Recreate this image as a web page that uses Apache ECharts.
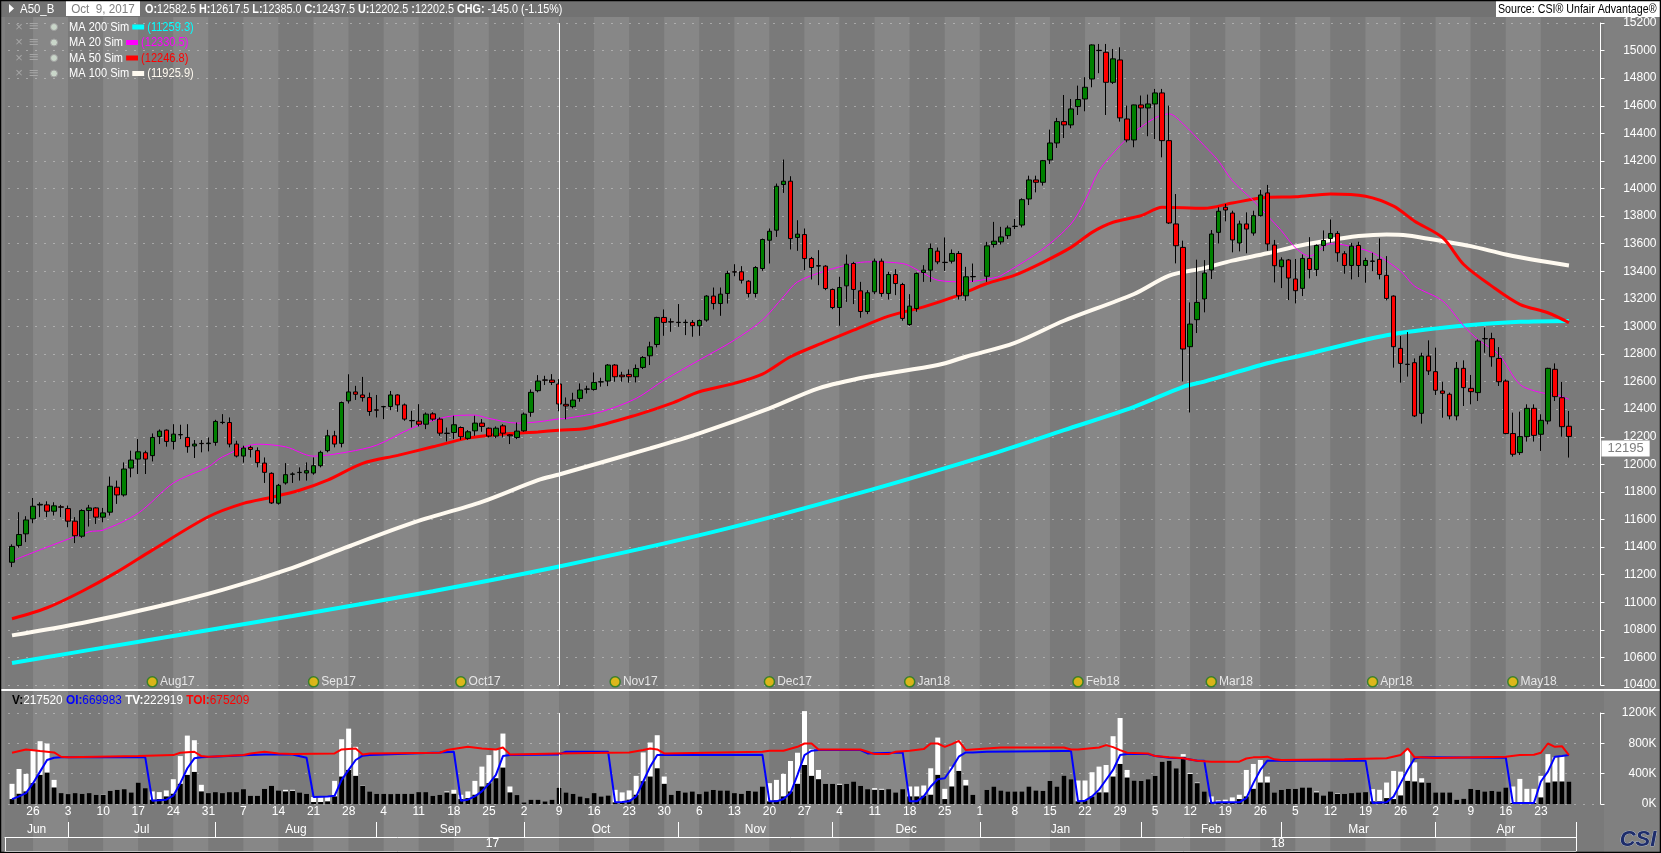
<!DOCTYPE html>
<html>
<head>
<meta charset="utf-8">
<script src="https://cdn.jsdelivr.net/npm/echarts@6/dist/echarts.min.js"></script>
<style>
html, body { margin: 0; padding: 0; background: #808080; }
#main { width: 1661px; height: 853px; }
</style>
</head>
<body>
<div id="main"></div>
<script>
// trading days shown on the axis (weekdays), first and last date
const FIRST_DAY = '2017-06-21';
const LAST_DAY = '2018-04-27';
const CURSOR_DAY = '2017-10-09';
const LAST_PRICE = 12195;

// daily bars: [open, high, low, close], null = no trading
const ohlc = [
[11290,11420,11255,11405],[11412,11653,11395,11491],[11496,11624,11436,11597],[11605,11756,11573,11696],[11705,11725,11617,11710],
[11706,11732,11617,11660],[11660,11725,11629,11699],[11692,11706,11617,11689],[11679,11701,11544,11588],[11588,11617,11429,11482],
[11479,11674,11467,11665],[11665,11706,11549,11684],[11684,11689,11568,11617],[11617,11684,11580,11648],[11653,11911,11629,11841],
[11834,11882,11713,11778],[11778,12014,11766,11966],[11973,12099,11906,12031],[12038,12183,11930,12091],[12084,12099,11930,12038],
[12063,12224,12021,12195],[12202,12253,12147,12241],[12248,12253,12128,12166],[12166,12291,12108,12219],[12214,12287,12183,12216],
[12195,12291,12084,12128],[12133,12176,12046,12147],[12152,12176,12087,12150],[12150,12195,12094,12154],[12159,12323,12135,12311],
[12303,12364,12291,12305],[12303,12340,12123,12147],[12147,12171,12050,12060],[12060,12135,12012,12118],[12123,12135,12050,12108],
[12099,12123,11978,12012],[12009,12050,11865,11942],[11935,11942,11713,11720],[11718,11858,11708,11848],[11865,12009,11853,11925],
[11928,11942,11865,11930],[11940,11978,11882,11942],[11937,12014,11882,11954],[11937,12050,11925,11990],[11990,12099,11978,12087],
[12099,12250,12087,12207],[12207,12243,12123,12147],[12152,12455,12123,12448],[12460,12653,12441,12525],[12525,12569,12467,12508],
[12503,12634,12455,12484],[12484,12520,12352,12383],[12395,12503,12340,12393],[12417,12424,12328,12419],[12419,12532,12393,12503],
[12503,12508,12381,12431],[12431,12441,12316,12328],[12318,12388,12267,12316],[12313,12436,12275,12291],[12291,12376,12255,12364],
[12366,12378,12316,12328],[12328,12340,12207,12226],[12226,12267,12166,12224],[12231,12352,12183,12287],[12267,12275,12178,12200],
[12188,12248,12178,12236],[12243,12352,12207,12299],[12299,12328,12236,12275],[12262,12267,12195,12205],[12205,12275,12190,12262],
[12279,12291,12195,12226],[12214,12219,12147,12207],[12195,12303,12183,12241],[12243,12376,12236,12364],[12377,12543,12345,12522],
[12534,12647,12522,12604],[12612,12642,12575,12610],[12611,12654,12575,12594],[12582.5,12617.5,12385,12437.5],[12435,12485,12326,12423],
[12418,12519,12406,12466],[12478,12587,12454,12539],[12545,12570,12514,12546],[12543,12666,12534,12594],[12597,12628,12563,12599],
[12604,12727,12567,12720],[12720,12727,12599,12635],[12647,12671,12599,12635],[12652,12688,12592,12635],[12635,12724,12594,12695],
[12703,12785,12691,12775],[12787,12889,12720,12852],[12869,13070,12848,13065],[13065,13123,12932,13029],[13034,13058,12961,13032],
[13030,13162,12997,13028],[13028,13050,12937,13030],[13029,13046,12925,13005],[13005,13050,12932,13043],[13046,13227,13034,13220],
[13220,13282,13123,13166],[13166,13282,13077,13234],[13239,13403,13166,13384],[13396,13451,13364,13394],[13396,13437,13311,13335],
[13328,13335,13210,13239],[13239,13437,13210,13427],[13420,13637,13403,13630],[13625,13710,13456,13690],[13698,14036,13649,14016],
[14029,14210,13968,14053],[14053,14089,13558,13637],[13645,13770,13548,13669],[13666,13710,13408,13492],[13492,13504,13340,13427],
[13440,13553,13299,13438],[13437,13444,13263,13275],[13268,13275,13125,13137],[13137,13360,13005,13282],[13294,13521,13178,13451],
[13456,13468,13162,13268],[13258,13323,13063,13108],[13108,13263,13089,13244],[13251,13492,13234,13473],[13473,13492,13215,13239],
[13239,13396,13195,13376],[13376,13415,13227,13311],[13304,13316,13041,13058],[13014,13234,13005,13147],[13130,13391,13106,13384],
[13391,13444,13323,13408],[13408,13601,13323,13565],[13546,13572,13451,13468],[13465,13645,13403,13463],[13473,13558,13456,13529],
[13529,13546,13195,13222],[13222,13432,13186,13360],[13362,13456,13323,13360],null,[13364,13613,13323,13584],
[13594,13758,13572,13618],[13613,13722,13594,13649],[13658,13731,13634,13714],[13725,13779,13706,13726],[13735,13929,13718,13919],
[13924,14093,13880,14062],[14062,14093,13972,14045],[14045,14207,14021,14202],[14207,14427,14178,14330],[14330,14512,14294,14485],
[14485,14678,14366,14461],[14461,14649,14437,14577],[14594,14746,14533,14645],[14649,14807,14560,14734],[14794,15045,14734,15041],
[15002,15048,14836,15000],[14988,15048,14533,14770],[14770,15012,14758,14940],[14932,15024,14485,14512],[14504,14601,14335,14352],
[14352,14608,14299,14606],[14606,14674,14444,14584],[14584,14681,14379,14613],[14613,14722,14359,14693],[14693,14722,14226,14347],
[14347,14601,13743,13750],[13743,13960,13457,13585],[13573,13622,12601,12836],[12853,13174,12376,13017],[13049,13484,12952,13174],
[13199,13481,13102,13387],[13409,13699,13344,13670],[13682,13864,13602,13835],[13864,13888,13762,13844],[13822,13839,13537,13627],
[13605,13767,13544,13743],[13743,13827,13530,13706],[13677,13839,13658,13803],[13803,13989,13796,13953],[13968,14026,13549,13598],
[13590,13627,13319,13440],[13433,13501,13278,13482],[13482,13489,13191,13351],[13344,13489,13167,13259],[13276,13522,13220,13493],
[13493,13647,13348,13413],[13413,13594,13365,13587],[13587,13696,13546,13623],[13638,13775,13606,13674],[13674,13691,13469,13534],
[13527,13546,13382,13442],[13442,13606,13341,13582],[13587,13614,13358,13442],[13442,13498,13317,13478],[13472,13534,13401,13474],
[13486,13638,13341,13377],[13370,13510,13189,13203],[13220,13225,12701,12853],[12841,12930,12592,12732],[12726,12959,12636,12724],
[12737,12768,12343,12351],[12370,12809,12295,12785],[12785,12899,12648,12677],[12672,12846,12503,12537],[12532,12599,12338,12515],
[12508,12520,12326,12351],[12351,12742,12319,12696],[12696,12754,12423,12556],[12551,12648,12435,12527],[12520,12906,12459,12894],
[12910,12991,12809,12912],[12911,12954,12708,12780],[12768,12850,12568,12599],[12604,12616,12218,12223],[12223,12375,12056,12073],
[12085,12382,12068,12201],[12201,12435,12165,12406],[12406,12435,12165,12210],[12218,12363,12097,12319],[12314,12700,12290,12696],
[12689,12732,12459,12491],[12483,12597,12201,12273],[12276,12387,12049,12202.5]
];

// moving averages: [day index, value]
const ma200Pts = [[0,10560],[20,10730],[40,10900],[60,11080],[78,11259],[100,11510],[120,11780],[140,12080],[150,12248],[160,12417],[167,12562],[170,12600],[179,12733],[184,12791],[196,12936],[206,13001],[215,13033],[222,13040]];
const ma100Pts = [[0,10760],[10,10850],[20,10960],[30,11090],[40,11250],[47,11386],[57,11574],[67,11728],[75,11885],[78,11926],[91,12116],[98,12225],[108,12406],[115,12551],[122,12635],[132,12720],[136,12780],[143,12881],[150,13041],[160,13235],[165,13368],[170,13423],[174,13477],[179,13530],[183,13580],[187,13618],[192,13655],[196,13667],[199,13660],[204,13618],[208,13582],[213,13522],[218,13474],[222,13442]];
const ma50Pts = [[0,10880],[5,10960],[10,11080],[15,11220],[20,11378],[28,11620],[33,11717],[37,11761],[41,11812],[45,11885],[50,12007],[55,12065],[60,12127],[65,12190],[70,12219],[75,12235],[78,12247],[82,12261],[89,12357],[94,12442],[98,12526],[103,12587],[107,12654],[111,12780],[116,12889],[120,12973],[125,13075],[130,13142],[135,13227],[139,13311],[143,13372],[147,13465],[151,13573],[154,13682],[157,13755],[161,13803],[164,13864],[170,13856],[174,13895],[179,13936],[183,13940],[188,13961],[193,13944],[197,13872],[200,13763],[204,13643],[207,13449],[211,13292],[215,13160],[219,13099],[222,13027]];
const ma20Pts = [[0,11300],[4,11380],[11,11511],[13,11523],[18,11646],[23,11864],[28,11982],[30,12054],[35,12146],[39,12127],[43,12059],[48,12091],[52,12139],[57,12262],[62,12345],[66,12357],[68,12333],[72,12299],[75,12308],[78,12330],[79,12333],[84,12381],[89,12478],[93,12611],[98,12756],[103,12901],[107,13046],[110,13215],[112,13323],[116,13403],[120,13456],[122,13468],[127,13456],[130,13384],[132,13335],[136,13323],[140,13352],[141,13368],[147,13561],[151,13743],[153,13912],[155,14130],[158,14311],[160,14408],[163,14512],[165,14541],[167,14468],[170,14311],[172,14202],[174,14057],[177,13912],[179,13803],[181,13694],[183,13570],[185,13510],[188,13599],[190,13590],[194,13534],[198,13401],[200,13292],[204,13184],[207,13003],[209,12906],[212,12797],[215,12580],[218,12520],[220,12508],[222,12471]];

const maNames = ['MA 200 Sim', 'MA 20 Sim', 'MA 50 Sim', 'MA 100 Sim'];
const maColors = ['#00ffff', '#ff00ff', '#ff0000', '#fffaf0'];
const maValues = ['11259.3', '12330.5', '12246.8', '11925.9'];

// volume (thousands): contract volume and total volume
const vol = [65,135,166,275,384,414,218,144,131,144,135,144,122,122,174,187,196,153,283,209,
57,65,100,135,266,384,423,166,144,157,144,157,157,196,109,109,200,240,179,166,
174,153,135,26,26,35,100,362,449,371,240,166,135,135,131,135,135,135,157,157,
109,122,153,135,65,78,122,231,275,340,480,153,118,22,57,57,35,57,218,153,
135,100,78,144,100,113,22,22,57,122,301,362,471,266,122,174,153,166,131,166,
187,179,179,144,135,174,166,231,35,48,100,166,266,514,371,327,266,266,253,266,
297,240,196,187,187,196,153,196,100,100,109,122,384,65,231,436,244,122,null,187,
231,179,166,166,166,231,179,174,305,231,375,327,35,48,100,153,153,362,528,349,
310,305,327,371,558,571,471,623,397,275,166,22,13,13,22,65,100,200,283,283,
153,187,200,200,218,218,153,113,166,135,135,144,153,157,35,35,78,65,113,305,
297,283,283,153,153,153,57,70,200,187,166,174,166,218,13,13,13,13,87,283,
297,297,297];
const totVol = [266,462,397,711,828,798,318,144,131,144,135,144,122,126,174,187,196,153,283,209,
166,157,179,327,632,902,841,253,144,157,144,157,157,196,109,109,200,240,179,187,
187,153,135,92,87,100,305,854,994,754,244,166,135,135,131,135,135,135,157,157,
109,122,166,187,122,166,305,493,645,711,929,231,118,22,57,57,35,57,223,153,
135,100,78,144,100,113,187,153,179,371,680,811,907,362,122,174,153,166,131,166,
187,179,179,144,135,174,166,231,275,318,397,567,676,1225,724,449,266,266,266,266,
297,240,196,209,200,196,153,196,231,231,244,471,876,200,493,841,318,122,null,187,
231,179,166,166,166,231,179,174,305,231,375,327,310,310,419,493,514,894,1134,449,
310,305,327,371,558,571,471,658,410,283,166,100,48,57,87,122,449,528,580,362,
153,187,200,200,218,218,166,113,166,144,135,144,153,157,196,187,283,436,427,711,
549,340,283,153,153,153,57,70,200,187,166,174,166,218,231,331,200,200,371,658,
615,632,297];

// open interest (thousands): contract OI and total OI, [day index, value]
const oiPts = [[0,65],[1,100],[2,144],[3,275],[4,427],[5,580],[6,610],[7,615],[19,615],[20,44],[21,48],[22,57],[23,109],[24,275],[25,471],[26,602],[27,615],[34,645],[36,654],[40,654],[42,610],[43,92],[45,100],[46,109],[47,318],[48,449],[49,580],[50,637],[51,645],[61,680],[63,689],[64,44],[65,57],[66,100],[67,166],[68,266],[69,384],[70,632],[71,645],[78,654],[79,689],[85,689],[86,22],[87,26],[88,35],[89,100],[90,297],[91,493],[92,645],[107,650],[108,35],[109,35],[110,65],[111,144],[112,384],[113,645],[114,702],[115,711],[121,711],[122,667],[127,680],[128,35],[129,35],[130,100],[131,231],[132,327],[133,340],[134,471],[135,624],[136,680],[137,680],[139,689],[150,700],[151,700],[152,35],[153,44],[154,100],[155,190],[156,320],[157,449],[158,645],[159,658],[162,658],[163,632],[165,610],[167,602],[169,571],[170,571],[171,13],[172,22],[175,22],[176,78],[177,275],[178,449],[179,571],[193,571],[194,13],[196,22],[197,100],[198,275],[199,449],[200,602],[201,615],[213,610],[214,13],[217,13],[218,297],[219,427],[220,624],[221,632],[222,645]];
const toiPts = [[0,676],[2,719],[4,698],[6,680],[7,623],[8,615],[18,632],[23,645],[24,676],[26,689],[27,632],[28,623],[33,645],[34,667],[36,689],[38,667],[40,658],[46,667],[47,719],[49,732],[50,654],[51,667],[61,676],[62,711],[65,754],[67,732],[69,719],[70,745],[71,654],[78,667],[85,676],[88,680],[90,711],[91,732],[92,719],[93,667],[107,689],[108,702],[110,702],[112,754],[113,798],[114,798],[115,719],[121,719],[122,689],[123,658],[125,658],[126,689],[128,702],[130,724],[131,798],[132,798],[133,754],[134,789],[135,833],[136,711],[137,719],[139,732],[141,745],[150,745],[151,719],[152,719],[155,745],[156,776],[157,750],[158,711],[159,676],[162,667],[163,632],[165,615],[167,602],[169,571],[171,558],[175,558],[176,600],[177,615],[178,615],[179,624],[180,589],[181,580],[190,589],[196,602],[198,645],[199,732],[200,615],[201,615],[203,605],[213,624],[215,645],[217,650],[218,676],[219,798],[220,754],[221,763],[222,645]];

// contract month markers: [day index, label]
const markers = [[20,'Aug17'],[43,'Sep17'],[64,'Oct17'],[86,'Nov17'],[108,'Dec17'],[128,'Jan18'],[152,'Feb18'],[171,'Mar18'],[194,'Apr18'],[214,'May18']];

const MONTHS = ['Jan','Feb','Mar','Apr','May','Jun','Jul','Aug','Sep','Oct','Nov','Dec'];
const FONT = '"Liberation Sans", Arial, sans-serif';

// weekday categories
const days = [];
for (let d = new Date(FIRST_DAY + 'T00:00:00Z'); d <= new Date(LAST_DAY + 'T00:00:00Z'); d.setUTCDate(d.getUTCDate() + 1)) {
  const wd = d.getUTCDay();
  if (wd !== 0 && wd !== 6) days.push(d.toISOString().slice(0, 10));
}
const N = days.length;
const mainCats = days.concat(['p1', 'p2', 'p3', 'p4']);
const bgCats = ['b0'].concat(mainCats);
const rowCats = ['b0'].concat(days);
const isMon = days.map(s => new Date(s + 'T00:00:00Z').getUTCDay() === 1);

const SLOT = 7.0132;
const LEFT = 8.5;
const BG_LEFT = LEFT - SLOT / 2;

// month and year spans on the row axes (row index j = day index + 1)
const monthStarts = [];
const yearStarts = [];
for (let i = 1; i < N; i++) {
  if (days[i].slice(5, 7) !== days[i - 1].slice(5, 7)) monthStarts.push(i);
  if (days[i].slice(0, 4) !== days[i - 1].slice(0, 4)) yearStarts.push(i);
}
function spanLabels(starts, labelOf) {
  const edges = [0].concat(starts.map(s => s + 1), [rowCats.length]);
  const out = [];
  for (let k = 0; k < edges.length - 1; k++) {
    out.push({ from: edges[k], to: edges[k + 1], name: labelOf(Math.max(edges[k] - 1, 0)) });
  }
  return out;
}
const monthLabels = spanLabels(monthStarts, i => MONTHS[+days[i].slice(5, 7) - 1]);
const yearLabels = spanLabels(yearStarts, i => days[i].slice(2, 4));
const monthTicks = new Set(monthStarts.map(s => s + 1));
const yearTicks = new Set(yearStarts.map(s => s + 1));

const candles = ohlc.map(r => r ? [r[0], r[3], r[2], r[1]] : '-');

const chart = echarts.init(document.getElementById('main'));

const txt = (extra) => Object.assign({ fontFamily: FONT, fontSize: 13, fill: '#ffffff' }, extra);

const graphic = [
  { type: 'rect', z: 50, shape: { x: 0, y: 0, width: 1661, height: 17 }, style: { fill: '#727272' } },
  { type: 'polygon', z: 51, shape: { points: [[9, 4], [14, 8.5], [9, 13]] }, style: { fill: '#ffffff' } },
  { type: 'text', z: 51, x: 20, y: 9, scaleX: 0.88, style: txt({ text: 'A50_B', verticalAlign: 'middle' }) },
  { type: 'rect', z: 51, shape: { x: 66, y: 1, width: 74, height: 15 }, style: { fill: '#ffffff' } },
  { type: 'text', z: 52, x: 103, y: 9, scaleX: 0.9, style: txt({ text: 'Oct  9, 2017', fill: '#808080', align: 'center', verticalAlign: 'middle' }) },
  { type: 'text', z: 51, x: 145, y: 9, scaleX: 0.83, style: txt({
      verticalAlign: 'middle',
      text: '{b|O:}12582.5 {b|H:}12617.5 {b|L:}12385.0 {b|C:}12437.5 {b|U:}12202.5 {b|:}12202.5 {b|CHG:} -145.0 (-1.15%)',
      rich: { b: { fontWeight: 'bold', fontFamily: FONT, fontSize: 13, fill: '#ffffff' } }
  }) },
  { type: 'rect', z: 51, shape: { x: 1496, y: 0, width: 165, height: 17 }, style: { fill: '#ffffff' } },
  { type: 'text', z: 52, x: 1498, y: 9, scaleX: 0.82, style: txt({ text: 'Source: CSI\u00ae Unfair Advantage\u00ae', fill: '#000000', verticalAlign: 'middle' }) },
  { type: 'rect', z: 50, shape: { x: 0, y: 689, width: 1661, height: 2 }, style: { fill: '#ffffff' } },
  { type: 'text', z: 51, x: 12, y: 700, scaleX: 0.91, style: txt({
      verticalAlign: 'middle',
      text: '{k|V:}217520 {bb|OI:}{bv|669983} {b|TV:}222919 {rb|TOI:}{rv|675209}',
      rich: {
        k: { fontWeight: 'bold', fill: '#000000', fontFamily: FONT, fontSize: 13 },
        b: { fontWeight: 'bold', fill: '#ffffff', fontFamily: FONT, fontSize: 13 },
        bb: { fontWeight: 'bold', fill: '#0000ff', fontFamily: FONT, fontSize: 13 },
        bv: { fill: '#0000ff', fontFamily: FONT, fontSize: 13 },
        rb: { fontWeight: 'bold', fill: '#ff0000', fontFamily: FONT, fontSize: 13 },
        rv: { fill: '#ff0000', fontFamily: FONT, fontSize: 13 }
      }
  }) },
  { type: 'text', z: 51, x: 1638, y: 840, style: { text: 'CSI', font: 'italic bold 22px "Liberation Sans"', fill: '#1e2d6b', stroke: '#d0d8e8', lineWidth: 0.6, align: 'center', verticalAlign: 'middle' } },
  { type: 'rect', z: 60, shape: { x: 0.5, y: 0.5, width: 1660, height: 852 }, style: { fill: null, stroke: '#000000', lineWidth: 1.5 } }
];
maNames.forEach((name, k) => {
  const y = 27 + k * 15.5;
  graphic.push(
    { type: 'text', z: 51, x: 19, y: y, style: txt({ text: '\u00d7', fill: '#a6a6a6', verticalAlign: 'middle', align: 'center' }) },
    { type: 'text', z: 51, x: 34, y: y, style: txt({ text: '\u2261', fill: '#a6a6a6', verticalAlign: 'middle', align: 'center', fontFamily: '"DejaVu Sans"' }) },
    { type: 'circle', z: 51, shape: { cx: 54, cy: y, r: 3.5 }, style: { fill: '#c9d6c9', stroke: '#a0a0a0', lineWidth: 1 } },
    { type: 'text', z: 51, x: 69, y: y, scaleX: 0.85, style: txt({
        verticalAlign: 'middle',
        text: '{n|' + name + '} {s| } {v|(' + maValues[k] + ')}',
        rich: {
          n: { fill: '#ffffff', fontFamily: FONT, fontSize: 13 },
          s: { backgroundColor: maColors[k], width: 14, height: 5, verticalAlign: 'middle' },
          v: { fill: maColors[k], fontFamily: FONT, fontSize: 13 }
        }
    }) }
  );
});

const dotted = { color: '#d4d4d4', width: 1, type: [1, 8] };
const axisLbl = { color: '#ffffff', fontSize: 12, fontFamily: FONT };

chart.setOption({
  animation: false,
  backgroundColor: '#808080',
  graphic: graphic,
  grid: [
    { left: BG_LEFT, top: 17, width: SLOT * bgCats.length, height: 835, outerBoundsMode: 'none' },
    { left: LEFT, top: 23, width: SLOT * mainCats.length, height: 662, outerBoundsMode: 'none' },
    { left: LEFT, top: 713, width: SLOT * mainCats.length, height: 91, outerBoundsMode: 'none' },
    { left: BG_LEFT, top: 822, width: SLOT * rowCats.length, height: 15, outerBoundsMode: 'none' },
    { left: BG_LEFT, top: 837, width: SLOT * rowCats.length, height: 14, outerBoundsMode: 'none' }
  ],
  xAxis: [
    { type: 'category', gridIndex: 0, data: bgCats, z: 0,
      axisLine: { show: false }, axisTick: { show: false }, axisLabel: { show: false }, splitLine: { show: false },
      splitArea: { show: true, interval: (j) => j === 0 || (j >= 1 && j <= N && isMon[j - 1]),
        areaStyle: { color: ['#7a7a7a', '#878787'] } } },
    { type: 'category', gridIndex: 1, data: mainCats, show: false },
    { type: 'category', gridIndex: 2, data: mainCats,
      axisLine: { show: false }, axisTick: { show: false }, splitLine: { show: false },
      axisLabel: Object.assign({ interval: (i) => i < N && isMon[i], margin: 2,
        formatter: (v) => String(+v.slice(8, 10)) }, axisLbl) },
    { type: 'category', gridIndex: 3, data: rowCats, position: 'top',
      axisLine: { show: true, lineStyle: { color: '#ffffff', width: 1 } },
      axisTick: { show: false }, axisLabel: { show: false },
      splitLine: { show: true, interval: (j) => monthTicks.has(j), lineStyle: { color: '#ffffff', width: 1 } } },
    { type: 'category', gridIndex: 4, data: rowCats, position: 'top',
      axisLine: { show: true, lineStyle: { color: '#ffffff', width: 1 } },
      axisTick: { show: false }, axisLabel: { show: false },
      splitLine: { show: true, interval: (j) => yearTicks.has(j), lineStyle: { color: '#ffffff', width: 1 } } }
  ],
  yAxis: [
    { type: 'value', gridIndex: 0, min: 0, max: 1, show: false },
    { type: 'value', gridIndex: 1, position: 'right', min: 10400, max: 15200, interval: 200, z: 1,
      axisLine: { show: true, lineStyle: { color: '#ffffff', width: 1 } },
      axisTick: { show: true, length: 4, lineStyle: { color: '#ffffff' } },
      axisLabel: Object.assign({ align: 'right', margin: 56, formatter: (v) => String(v) }, axisLbl),
      splitLine: { show: true, lineStyle: dotted } },
    { type: 'value', gridIndex: 2, position: 'right', min: 0, max: 1200, interval: 400, z: 1,
      axisLine: { show: true, lineStyle: { color: '#ffffff', width: 1 } },
      axisTick: { show: true, length: 4, lineStyle: { color: '#ffffff' } },
      axisLabel: Object.assign({ align: 'right', margin: 56, formatter: (v) => v + 'K' }, axisLbl),
      splitLine: { show: true, lineStyle: dotted } },
    { type: 'value', gridIndex: 3, min: 0, max: 1, show: false },
    { type: 'value', gridIndex: 4, min: 0, max: 1, show: false }
  ],
  series: [
    { name: 'MA 200', type: 'line', xAxisIndex: 1, yAxisIndex: 1, data: ma200Pts, showSymbol: false, silent: true, z: 2, smooth: 0.3,
      lineStyle: { color: maColors[0], width: 4 } },
    { name: 'MA 100', type: 'line', xAxisIndex: 1, yAxisIndex: 1, data: ma100Pts, showSymbol: false, silent: true, z: 2, smooth: 0.3,
      lineStyle: { color: maColors[3], width: 4 } },
    { name: 'MA 50', type: 'line', xAxisIndex: 1, yAxisIndex: 1, data: ma50Pts, showSymbol: false, silent: true, z: 2, smooth: 0.3,
      lineStyle: { color: maColors[2], width: 3 } },
    { name: 'MA 20', type: 'line', xAxisIndex: 1, yAxisIndex: 1, data: ma20Pts, showSymbol: false, silent: true, z: 2, smooth: 0.3,
      lineStyle: { color: maColors[1], width: 1 } },
    { name: 'A50_B', type: 'candlestick', xAxisIndex: 1, yAxisIndex: 1, data: candles, barWidth: 5, z: 3,
      itemStyle: { color: '#008000', color0: '#ff0000', borderColor: '#000000', borderColor0: '#000000', borderWidth: 1 },
      markLine: { silent: true, symbol: ['none', 'none'], animation: false,
        data: [
          { xAxis: CURSOR_DAY, lineStyle: { color: '#ffffff', width: 1, type: 'solid' }, label: { show: false } },
          { yAxis: LAST_PRICE, lineStyle: { color: 'rgba(0,0,0,0)', width: 1 },
            label: { show: true, position: 'end', formatter: String(LAST_PRICE), backgroundColor: '#ffffff', color: '#7f7f7f',
              fontFamily: FONT, fontSize: 13, padding: [2, 6, 1, 6], distance: 1, offset: [0, 11] } }
        ] } },
    { name: 'months', type: 'scatter', xAxisIndex: 1, yAxisIndex: 1, z: 4, symbol: 'circle', symbolSize: 10,
      data: markers.map(m => ({ value: [m[0], 10423], name: m[1] })),
      itemStyle: { color: '#f2c300', borderColor: '#1f7a1f', borderWidth: 1.5 },
      label: { show: true, position: 'right', distance: 2, formatter: (p) => p.name, color: '#ffffff', fontFamily: FONT, fontSize: 12 } },
    { name: 'TV', type: 'bar', xAxisIndex: 2, yAxisIndex: 2, data: totVol, barWidth: 5, barGap: '-100%', clip: false, z: 2,
      itemStyle: { color: '#ffffff' },
      markLine: { silent: true, symbol: ['none', 'none'], animation: false,
        data: [{ xAxis: CURSOR_DAY }], lineStyle: { color: '#ffffff', width: 1, type: 'solid' }, label: { show: false } } },
    { name: 'V', type: 'bar', xAxisIndex: 2, yAxisIndex: 2, data: vol, barWidth: 5, barGap: '-100%', z: 3,
      itemStyle: { color: '#000000' } },
    { name: 'OI', type: 'line', xAxisIndex: 2, yAxisIndex: 2, data: oiPts, showSymbol: false, silent: true, z: 4,
      lineStyle: { color: '#0000ff', width: 2 } },
    { name: 'TOI', type: 'line', xAxisIndex: 2, yAxisIndex: 2, data: toiPts, showSymbol: false, silent: true, z: 5,
      lineStyle: { color: '#ff0000', width: 2 } }
  ]
});

// month and year names, centred in their spans using the row axes' own scale
function rowTexts(list, axisIndex, yc, prefix) {
  return list.map((s, k) => {
    const a = chart.convertToPixel({ xAxisIndex: axisIndex }, s.from);
    const b = chart.convertToPixel({ xAxisIndex: axisIndex }, s.to - 1);
    return { type: 'text', id: prefix + k, zlevel: 1, z: 55, x: (a + b) / 2, y: yc,
      style: { text: s.name, fill: '#ffffff', fontFamily: FONT, fontSize: 12, align: 'center', verticalAlign: 'middle' } };
  });
}
chart.setOption({ graphic: rowTexts(monthLabels, 3, 829.5, 'm').concat(rowTexts(yearLabels, 4, 844, 'y')) });
</script>
</body>
</html>
